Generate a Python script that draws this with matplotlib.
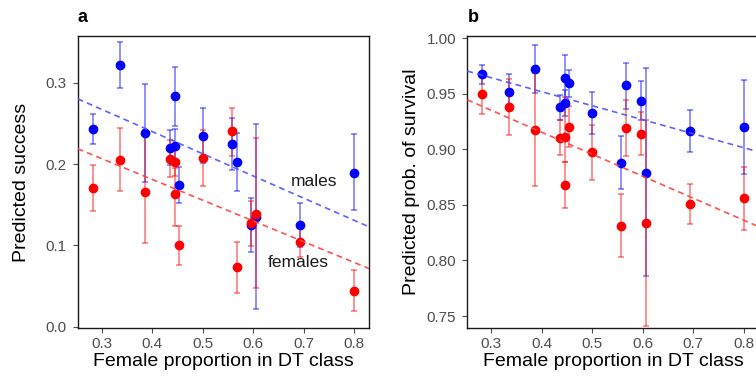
import numpy as np
import matplotlib
matplotlib.use("Agg")
import matplotlib.pyplot as plt

plt.rcParams['font.family'] = ['Liberation Sans', 'DejaVu Sans']

# Female proportion in each DT class (shared by both panels)
female_prop = [0.282, 0.336, 0.3865, 0.436, 0.446, 0.446, 0.4535,
               0.500, 0.5577, 0.567, 0.5962, 0.6055, 0.693, 0.800]

# Panel a: predicted success (estimate, lower, upper)
succ_m = [0.2426, 0.3217, 0.2377, 0.2200, 0.2225, 0.2836, 0.1742,
          0.2344, 0.2246, 0.2020, 0.1250, 0.1352, 0.1254, 0.1893]
succ_m_lo = [0.2242, 0.2939, 0.1780, 0.1990, 0.1990, 0.2471, 0.1525,
             0.2008, 0.1926, 0.1668, 0.0922, 0.0221, 0.0984, 0.1434]
succ_m_hi = [0.2611, 0.3500, 0.2984, 0.2420, 0.2430, 0.3197, 0.1963,
             0.2693, 0.2570, 0.2385, 0.1586, 0.2488, 0.1525, 0.2369]

succ_f = [0.1709, 0.2053, 0.1660, 0.2066, 0.2029, 0.1631, 0.1004,
          0.2074, 0.2402, 0.0730, 0.1279, 0.1385, 0.1041, 0.0443]
succ_f_lo = [0.1418, 0.1664, 0.1025, 0.1836, 0.1850, 0.1238, 0.0758,
             0.1734, 0.2098, 0.0414, 0.0992, 0.0471, 0.0861, 0.0193]
succ_f_hi = [0.1992, 0.2447, 0.2418, 0.2295, 0.2210, 0.1947, 0.1242,
             0.2418, 0.2693, 0.1045, 0.1550, 0.2316, 0.1238, 0.0697]

# Panel b: predicted probability of survival (estimate, lower, upper)
surv_m = [0.9677, 0.9518, 0.9725, 0.9377, 0.9638, 0.9416, 0.9596,
          0.9326, 0.8877, 0.9575, 0.9431, 0.8790, 0.9165, 0.9198]
surv_m_lo = [0.9590, 0.9356, 0.9506, 0.9266, 0.9437, 0.9296, 0.9470,
             0.9140, 0.8644, 0.9365, 0.9260, 0.7860, 0.8973, 0.8775]
surv_m_hi = [0.9763, 0.9674, 0.9943, 0.9485, 0.9850, 0.9530, 0.9716,
             0.9515, 0.9117, 0.9781, 0.9611, 0.9728, 0.9356, 0.9626]

surv_f = [0.9494, 0.9383, 0.9171, 0.9102, 0.9108, 0.8677, 0.9204,
          0.8973, 0.8314, 0.9195, 0.9141, 0.8338, 0.8509, 0.8560]
surv_f_lo = [0.9320, 0.9132, 0.8671, 0.8946, 0.8886, 0.8473, 0.9021,
             0.8728, 0.8027, 0.8937, 0.8946, 0.7413, 0.8329, 0.8278]
surv_f_hi = [0.9670, 0.9635, 0.9686, 0.9266, 0.9470, 0.8883, 0.9386,
             0.9222, 0.8596, 0.9446, 0.9335, 0.9266, 0.8692, 0.8841]

# Linear fits (intercept, slope)
fit_succ_m = (0.349, -0.2728)
fit_succ_f = (0.2832, -0.2553)
fit_surv_m = (1.0022, -0.1259)
fit_surv_f = (0.9945, -0.1978)

BLUE = '#0000ff'
RED = '#ff0000'
TICK_GREY = '#4d4d4d'


def draw_panel(ax, est_m, lo_m, hi_m, est_f, lo_f, hi_f, fit_m, fit_f, xlim):
    x = np.array(female_prop)
    for est, lo, hi, col in [(est_m, lo_m, hi_m, BLUE), (est_f, lo_f, hi_f, RED)]:
        est = np.array(est)
        yerr = [est - np.array(lo), np.array(hi) - est]
        ax.errorbar(x, est, yerr=yerr, fmt='none', ecolor=col, alpha=0.5,
                    elinewidth=1.2, capsize=2, capthick=1.2, zorder=2)
        ax.plot(x, est, 'o', color=col, markersize=6, zorder=3)
    xs = np.array(xlim)
    for (b0, b1), col in [(fit_m, '#5050ff'), (fit_f, '#ff4040')]:
        ax.plot(xs, b0 + b1 * xs, color=col, lw=1.2, dashes=(3.5, 2.5),
                alpha=0.9, zorder=4)
    ax.set_xlim(xlim)
    ax.set_xticks([0.3, 0.4, 0.5, 0.6, 0.7, 0.8])
    ax.set_xlabel('Female proportion in DT class', fontsize=14, labelpad=2)
    ax.tick_params(axis='both', labelsize=11, colors=TICK_GREY,
                   length=3.5, width=0.8)
    ax.tick_params(axis='x', pad=2.5)
    ax.tick_params(axis='y', pad=4.5)
    ax.yaxis.set_label_coords(-0.163, 0.5)
    for sp in ax.spines.values():
        sp.set_color('#1a1a1a')
        sp.set_linewidth(1.0)


fig = plt.figure(figsize=(7.56, 3.78), dpi=100)
ax_a = fig.add_axes([0.1028, 0.1315, 0.3857, 0.7733])
ax_b = fig.add_axes([0.6181, 0.1315, 0.3857, 0.7733])

xlim = (0.2525, 0.830)

draw_panel(ax_a, succ_m, succ_m_lo, succ_m_hi, succ_f, succ_f_lo, succ_f_hi,
           fit_succ_m, fit_succ_f, xlim)
ax_a.set_ylim(-0.002, 0.3574)
ax_a.set_yticks([0.0, 0.1, 0.2, 0.3])
ax_a.set_ylabel('Predicted success', fontsize=14)
ax_a.text(0.72, 0.178, 'males', fontsize=12.5, color='#1a1a1a',
          ha='center', va='center')
ax_a.text(0.69, 0.079, 'females', fontsize=12.5, color='#1a1a1a',
          ha='center', va='center')

draw_panel(ax_b, surv_m, surv_m_lo, surv_m_hi, surv_f, surv_f_lo, surv_f_hi,
           fit_surv_m, fit_surv_f, xlim)
ax_b.set_ylim(0.739, 1.002)
ax_b.set_yticks([0.75, 0.80, 0.85, 0.90, 0.95, 1.00])
ax_b.set_yticklabels(['0.75', '0.80', '0.85', '0.90', '0.95', '1.00'])
ax_b.set_ylabel('Predicted prob. of survival', fontsize=14)

fig.text(78 / 756, 1 - 22 / 378, 'a', fontsize=13, fontweight='bold')
fig.text(468 / 756, 1 - 22 / 378, 'b', fontsize=13, fontweight='bold')

fig.savefig('out.png', dpi=100)
